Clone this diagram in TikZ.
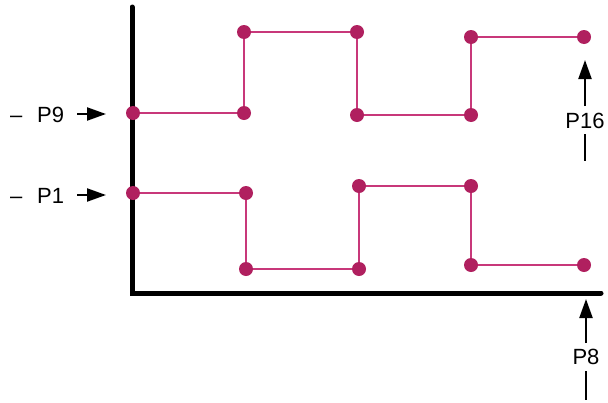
\documentclass[tikz,border=0pt]{standalone}
\usepackage{fontspec}
\setmainfont{Liberation Sans}
\usetikzlibrary{arrows.meta}
\definecolor{dotc}{HTML}{B0205F}
\definecolor{linec}{HTML}{C8387A}
\begin{document}
\begin{tikzpicture}[x=1pt,y=-1pt,
  dot/.style={circle,fill=dotc,inner sep=0pt,minimum size=14pt},
  trace/.style={linec,line width=2pt},
  axis/.style={black,line width=5pt,line cap=round},
  lbl/.style={font=\fontsize{22}{22}\selectfont,inner sep=0pt},
  arr/.style={line width=2.2pt,-{Triangle[length=19pt,width=13pt]}},
  tick/.style={line width=2pt}]
\useasboundingbox[fill=white] (0,0) rectangle (608,402);
% axes
\coordinate (ytop) at (132,7);
\coordinate (orig) at (132,293);
\coordinate (xend) at (601,293);
\draw[axis] (ytop) -- (orig) -- (xend);
% traces (drawn first, dots on top)
\coordinate (t1) at (133,113);
\coordinate (t2) at (244,113);
\coordinate (t3) at (244,32);
\coordinate (t4) at (357,32);
\coordinate (t5) at (357,115);
\coordinate (t6) at (471,115);
\coordinate (t7) at (471,37);
\coordinate (t8) at (584,37);
\coordinate (b1) at (133,193);
\coordinate (b2) at (246,193);
\coordinate (b3) at (246,269);
\coordinate (b4) at (359,269);
\coordinate (b5) at (359,186);
\coordinate (b6) at (471,186);
\coordinate (b7) at (471,265);
\coordinate (b8) at (584,265);
\draw[trace] (t1) -- (t2) -- (t3) -- (t4) -- (t5) -- (t6) -- (t7) -- (t8);
\draw[trace] (b1) -- (b2) -- (b3) -- (b4) -- (b5) -- (b6) -- (b7) -- (b8);
\foreach \p in {t1,t2,t3,t4,t5,t6,t7,t8,b1,b2,b3,b4,b5,b6,b7,b8}
  \node[dot] (d\p) at (\p) {};
% left labels
\node[lbl,anchor=base west] (m9) at (10,122) {–};
\node[lbl,anchor=base west] (p9) at (37,122) {P9};
\coordinate (p9s) at (77,114);
\coordinate (p9e) at (106,114);
\draw[arr] (p9s) -- (p9e);
\node[lbl,anchor=base west] (m1) at (10,203) {–};
\node[lbl,anchor=base west] (p1) at (37,203) {P1};
\coordinate (p1s) at (77,195);
\coordinate (p1e) at (106,195);
\draw[arr] (p1s) -- (p1e);
% right labels
\node[lbl] (p16) at (585,121) {P16};
\coordinate (p16a) at (585,106);
\coordinate (p16t) at (585,60);
\coordinate (p16b) at (585,134);
\coordinate (p16c) at (585,161);
\draw[arr] (p16a) -- (p16t);
\draw[tick] (p16b) -- (p16c);
\node[lbl] (p8) at (586,357) {P8};
\coordinate (p8a) at (586,343);
\coordinate (p8t) at (586,299);
\coordinate (p8b) at (586,371);
\coordinate (p8c) at (586,400);
\draw[arr] (p8a) -- (p8t);
\draw[tick] (p8b) -- (p8c);
\end{tikzpicture}
\end{document}
